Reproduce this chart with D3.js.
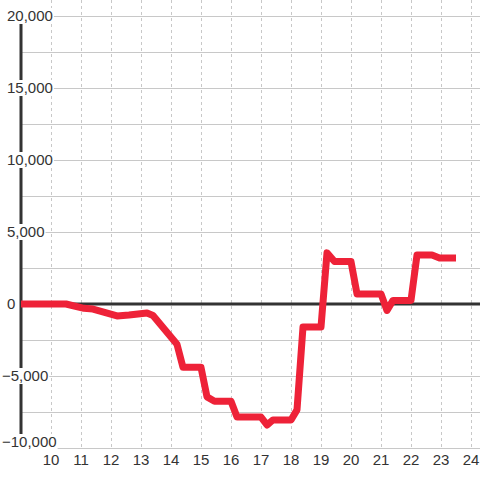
<!DOCTYPE html>
<html><head><meta charset="utf-8">
<script src="https://cdn.jsdelivr.net/npm/d3@7"></script>
<style>body{margin:0;background:#fff}svg{display:block}text{font-family:"Liberation Sans",Arial,sans-serif;font-size:15px;fill:#333}</style>
</head><body><svg id="c" width="480" height="480"></svg>
<script>
const hours = [9.0,10.5,11.1,11.4,12.2,12.6,13.2,13.4,14.2,14.4,15.0,15.2,15.45,16.0,16.2,17.0,17.2,17.4,18.0,18.2,18.4,19.0,19.2,19.45,20.0,20.2,21.0,21.2,21.4,22.0,22.2,22.7,22.95,23.5];
const values = [0,0,-300,-350,-830,-760,-620,-800,-2800,-4400,-4400,-6450,-6750,-6750,-7850,-7850,-8400,-8050,-8050,-7350,-1600,-1600,3550,2950,2950,700,700,-450,250,250,3400,3400,3200,3200];
const xTicks = [10,11,12,13,14,15,16,17,18,19,20,21,22,23,24];
const yTicks = [-10000,-5000,0,5000,10000,15000,20000];
const yGrid = [-10000,-7500,-5000,-2500,0,2500,5000,7500,10000,12500,15000,17500,20000];

(function(){
const svg = d3.select("#c");
const x = d3.scaleLinear().domain([9, 24]).range([21, 471]);
const y = d3.scaleLinear().domain([-10000, 20000]).range([448, 16]);
const pLeft = 21, pRight = 480, pTop = 0, pBottom = 448;

svg.append("g").selectAll("line").data(yGrid).join("line")
  .attr("x1", d => d === -10000 ? 53 : pLeft).attr("x2", pRight)
  .attr("y1", d => Math.round(y(d)) + 0.5).attr("y2", d => Math.round(y(d)) + 0.5)
  .attr("stroke", "#c8c8c8").attr("stroke-width", 1);
svg.append("g").selectAll("line").data(xTicks).join("line")
  .attr("x1", d => Math.round(x(d)) + 0.5).attr("x2", d => Math.round(x(d)) + 0.5)
  .attr("y1", pTop).attr("y2", pBottom)
  .attr("stroke", "#c8c8c8").attr("stroke-width", 1).attr("stroke-dasharray", "3,3");

svg.append("line").attr("x1", pLeft).attr("x2", pRight)
  .attr("y1", y(0)).attr("y2", y(0)).attr("stroke", "#333").attr("stroke-width", 3);
svg.append("line").attr("x1", 21).attr("x2", 21)
  .attr("y1", y(20000)).attr("y2", pBottom - 8).attr("stroke", "#333").attr("stroke-width", 3);

const line = d3.line().x((d, i) => x(hours[i])).y(d => y(d));
svg.append("path").datum(values).attr("d", line)
  .attr("fill", "none").attr("stroke", "#ee2238").attr("stroke-width", 7)
  .attr("stroke-linejoin", "round").attr("stroke-linecap", "butt");

const fmt = d3.format(",");
const yl = svg.append("g").selectAll("g").data(yTicks).join("g")
  .attr("transform", d => `translate(0,${Math.min(y(d), pBottom - 6)})`);
yl.each(function(d) {
  const g = d3.select(this);
  const t = g.append("text").attr("x", d < 0 ? 2 : 7).attr("dy", "0.35em").text(fmt(d));
  const bb = t.node().getBBox();
  g.insert("rect", "text").attr("x", bb.x - 1).attr("y", -8).attr("width", bb.width + 2).attr("height", 16).attr("fill", "#fff");
});

svg.append("g").selectAll("text").data(xTicks).join("text")
  .attr("x", d => x(d)).attr("y", 460).attr("dy", "0.35em")
  .attr("text-anchor", "middle").text(d => d);
})();
</script></body></html>
